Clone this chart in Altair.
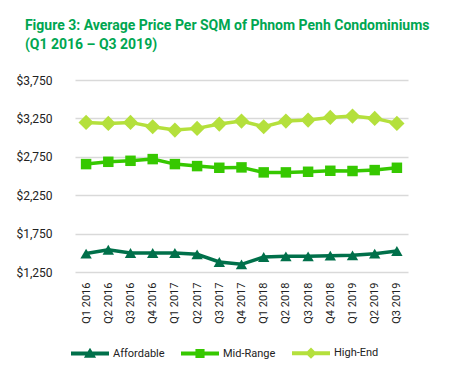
import altair as alt
import pandas as pd

quarters = ["Q1 2016", "Q2 2016", "Q3 2016", "Q4 2016", "Q1 2017", "Q2 2017",
            "Q3 2017", "Q4 2017", "Q1 2018", "Q2 2018", "Q3 2018", "Q4 2018",
            "Q1 2019", "Q2 2019", "Q3 2019"]
affordable = [1490, 1540, 1497, 1497, 1497, 1480, 1380, 1350, 1445, 1454, 1454, 1463, 1467, 1489, 1523]
mid_range = [2655, 2685, 2698, 2720, 2655, 2629, 2607, 2612, 2547, 2547, 2555, 2568, 2565, 2577, 2607]
high_end = [3198, 3185, 3198, 3141, 3098, 3120, 3176, 3215, 3141, 3215, 3228, 3263, 3280, 3250, 3185]

series_names = ["Affordable", "Mid-Range", "High-End"]
series_colors = ["#00704A", "#36C800", "#B4E03C"]
series_shapes = ["triangle-up", "square", "diamond"]
y_ticks = [1250, 1750, 2250, 2750, 3250, 3750]

rows = []
for name, vals in zip(series_names, [affordable, mid_range, high_end]):
    for q, v in zip(quarters, vals):
        rows.append({"quarter": q, "value": v, "series": name})
df = pd.DataFrame(rows)

FONT = "Roboto, Liberation Sans, sans-serif"

# legend glyphs: a line with the series marker in the middle
leg_paths = [
    "M-1,-0.105H1V0.105H-1Z M0,-0.3L0.32,0.22L-0.32,0.22Z",
    "M-1,-0.105H1V0.105H-1Z M-0.24,-0.24H0.24V0.24H-0.24Z",
    "M-1,-0.105H1V0.105H-1Z M0,-0.3L0.3,0L0,0.3L-0.3,0Z",
]

x_enc = alt.X("quarter:N", sort=quarters, scale=alt.Scale(padding=0.5),
              axis=alt.Axis(title=None, labelAngle=-90, labelFont=FONT, labelFontSize=11,
                            labelColor="#222222", domain=False, ticks=False, labelPadding=10,
                            grid=False))
y_enc = alt.Y("value:Q", scale=alt.Scale(domain=[1250, 3750], nice=False, zero=False),
              axis=alt.Axis(title=None, values=y_ticks, format="$,.0f", labelFont=FONT,
                            labelFontSize=12, labelColor="#222222", domain=False, ticks=False,
                            labelPadding=23, gridColor="#d9d9d9", gridWidth=1.5))
color_scale = alt.Scale(domain=series_names, range=series_colors)

base = alt.Chart(df).encode(x=x_enc, y=y_enc)

legend_def = alt.Legend(
    title=None, orient="none", direction="horizontal", legendX=-4, legendY=254,
    symbolSize=1444, symbolOpacity=1, symbolStrokeWidth=0, labelFont=FONT,
    labelFontSize=11, labelColor="#222222", columnPadding=16, labelOffset=4)

lines = base.mark_line(strokeWidth=3.5).encode(
    color=alt.Color("series:N", scale=color_scale, legend=legend_def))

point_layers = []
sizes = [130, 110, 230]
for name, shp, sz in zip(series_names, series_shapes, sizes):
    point_layers.append(
        base.transform_filter(alt.datum.series == name)
        .mark_point(filled=True, shape=shp, size=sz, opacity=1)
        .encode(color=alt.Color("series:N", scale=color_scale, legend=legend_def))
    )

# legend-only layer (no marks drawn; scales have explicit domains)
legend_layer = base.transform_filter("false").mark_point(filled=True).encode(
    color=alt.Color("series:N", scale=color_scale, legend=legend_def),
    shape=alt.Shape("series:N", scale=alt.Scale(domain=series_names, range=leg_paths),
                    legend=legend_def),
)

chart = alt.layer(legend_layer, lines, *point_layers).properties(
    width=333, height=192,
    autosize=alt.AutoSizeParams(type="none"),
    padding={"left": 67, "top": 72, "right": 34, "bottom": 95},
    title=alt.TitleParams(
        ["Figure 3: Average Price Per SQM of Phnom Penh Condominiums", "(Q1 2016 – Q3 2019)"],
        anchor="start", dx=9, offset=22, font=FONT, fontSize=14, fontWeight="bold",
        color="#00A651", lineHeight=19),
).configure_view(stroke=None)

chart.save("out.html", embed_options={"renderer": "svg", "actions": False})
